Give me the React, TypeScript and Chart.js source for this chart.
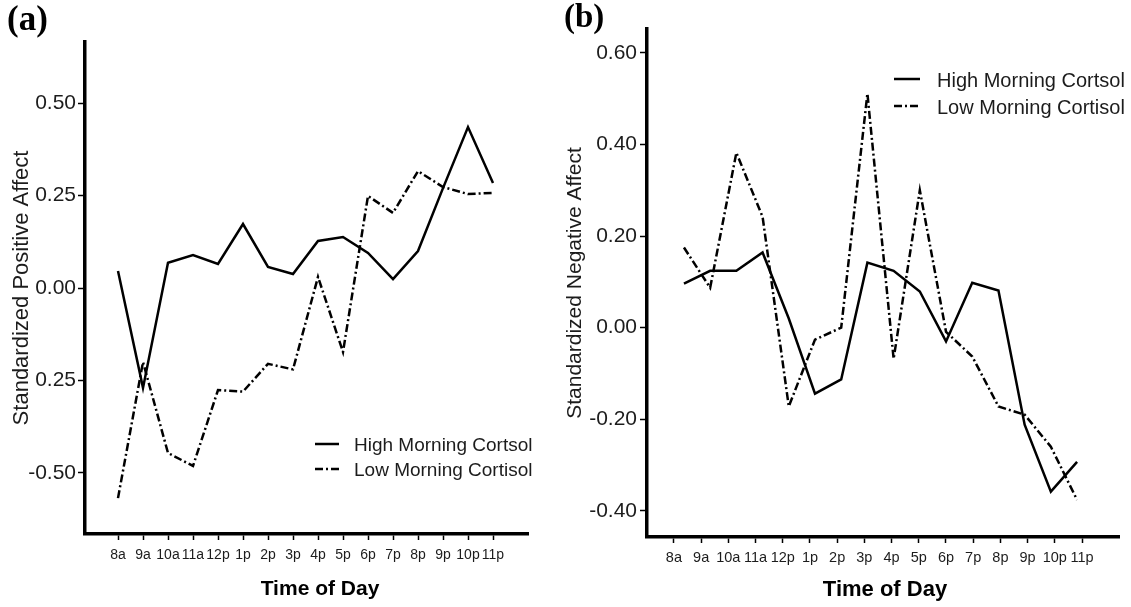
import React, { useEffect, useRef } from "react";
import { Chart, registerables } from "chart.js";

Chart.register(...registerables);

// ---------------- data ----------------
const timeLabels = ["8a", "9a", "10a", "11a", "12p", "1p", "2p", "3p", "4p", "5p", "6p", "7p", "8p", "9p", "10p", "11p"];
const seriesNames = ["High Morning Cortsol", "Low Morning Cortisol"];

const positiveHigh = [0.046, -0.27, 0.068, 0.089, 0.065, 0.173, 0.057, 0.038, 0.127, 0.138, 0.095, 0.024, 0.1, 0.27, 0.435, 0.284];
const positiveLow = [-0.568, -0.2, -0.446, -0.481, -0.276, -0.28, -0.205, -0.22, 0.03, -0.173, 0.249, 0.203, 0.316, 0.273, 0.254, 0.257];

const negativeHigh = [0.096, 0.124, 0.124, 0.164, 0.02, -0.144, -0.113, 0.142, 0.124, 0.079, -0.03, 0.098, 0.081, -0.212, -0.358, -0.293];
const negativeLow = [0.175, 0.087, 0.382, 0.242, -0.172, -0.026, 0.0, 0.511, -0.068, 0.3, -0.009, -0.063, -0.172, -0.19, -0.26, -0.376];

const positiveTickValues = [-0.5, -0.25, 0, 0.25, 0.5];
const positiveTickLabels = ["-0.50", "0.25", "0.00", "0.25", "0.50"];
const negativeTickValues = [-0.4, -0.2, 0, 0.2, 0.4, 0.6];
const negativeTickLabels = ["-0.40", "-0.20", "0.00", "0.20", "0.40", "0.60"];

// ---------------- styling ----------------
const SANS = '"Liberation Sans", Arial, Helvetica, sans-serif';
const SERIF = '"Liberation Serif", "Times New Roman", serif';
const TEXT = "#1c1c1c";
const LOW_DASH = [8, 3, 2, 3];

type PanelCfg = {
  left: number;
  width: number;
  height: number;
  areaLeft: number;
  areaTop: number;
  areaRight: number;
  areaBottom: number;
  xMin: number;
  xMax: number;
  dataMin: number;
  dataMax: number;
  yMin: number;
  yMax: number;
  yTicks: number[];
  yTickLabels: string[];
  yTitle: string;
  yTitleFont: number;
  yTitlePad: number;
  yTickFont: number;
  yTickPad: number;
  xTickFont: number;
  xTickPad: number;
  high: number[];
  low: number[];
  panel: string;
  panelX: number;
  panelY: number;
  panelFont: number;
  xTitleX: number;
  xTitleY: number;
  xTitleFont: number;
  legendX: number;
  legendLen: number;
  legendTextX: number;
  legendY: number;
  legendGap: number;
  legendFont: number;
};

const panelA: PanelCfg = {
  left: 0, width: 556, height: 607,
  areaLeft: 85, areaTop: 42, areaRight: 528, areaBottom: 534,
  xMin: -1.32, xMax: 16.4, dataMin: -1.32, dataMax: 16.4,
  yMin: -0.665, yMax: 0.665,
  yTicks: positiveTickValues, yTickLabels: positiveTickLabels,
  yTitle: "Standardized Positive Affect", yTitleFont: 22, yTitlePad: 9,
  yTickFont: 21, yTickPad: 2,
  xTickFont: 14, xTickPad: 7,
  high: positiveHigh, low: positiveLow,
  panel: "(a)", panelX: 7, panelY: 30, panelFont: 35,
  xTitleX: 320, xTitleY: 589, xTitleFont: 21,
  legendX: 315, legendLen: 24, legendTextX: 354, legendY: 446, legendGap: 25, legendFont: 19,
};

const panelB: PanelCfg = {
  left: 556, width: 575, height: 607,
  areaLeft: 91, areaTop: 29, areaRight: 563, areaBottom: 537,
  xMin: -0.99, xMax: 16.36, dataMin: -1.41, dataMax: 16.6,
  yMin: -0.457, yMax: 0.652,
  yTicks: negativeTickValues, yTickLabels: negativeTickLabels,
  yTitle: "Standardized Negative Affect", yTitleFont: 21, yTitlePad: 7,
  yTickFont: 21, yTickPad: 3,
  xTickFont: 14.5, xTickPad: 6,
  high: negativeHigh, low: negativeLow,
  panel: "(b)", panelX: 8, panelY: 27, panelFont: 33,
  xTitleX: 329, xTitleY: 590, xTitleFont: 22,
  legendX: 338, legendLen: 26, legendTextX: 381, legendY: 81, legendGap: 27, legendFont: 20,
};

function decorPlugin(p: PanelCfg) {
  return {
    id: "decor" + p.panel,
    afterDraw(chart: any) {
      const ctx: CanvasRenderingContext2D = chart.ctx;
      ctx.save();
      // panel label
      ctx.fillStyle = "#000";
      ctx.font = `bold ${p.panelFont}px ${SERIF}`;
      ctx.textAlign = "left";
      ctx.textBaseline = "alphabetic";
      ctx.fillText(p.panel, p.panelX, p.panelY);
      // x-axis title
      ctx.font = `bold ${p.xTitleFont}px ${SANS}`;
      ctx.textAlign = "center";
      ctx.textBaseline = "middle";
      ctx.fillText("Time of Day", p.xTitleX, p.xTitleY);
      // legend
      chart.data.datasets.forEach((ds: any, i: number) => {
        const y = p.legendY + i * p.legendGap;
        ctx.strokeStyle = ds.borderColor;
        ctx.lineWidth = ds.borderWidth;
        ctx.setLineDash(ds.borderDash || []);
        ctx.beginPath();
        ctx.moveTo(p.legendX, y - 2);
        ctx.lineTo(p.legendX + p.legendLen, y - 2);
        ctx.stroke();
        ctx.setLineDash([]);
        ctx.fillStyle = TEXT;
        ctx.font = `${p.legendFont}px ${SANS}`;
        ctx.textAlign = "left";
        ctx.textBaseline = "middle";
        ctx.fillText(ds.label, p.legendTextX, y);
      });
      ctx.restore();
    },
  };
}

function buildChart(canvas: HTMLCanvasElement, p: PanelCfg) {
  const toPoints = (arr: number[]) => arr.map((v, i) => ({ x: i, y: v }));
  const gridStyle = {
    display: true,
    drawOnChartArea: false,
    drawTicks: true,
    tickLength: 7,
    tickWidth: 1.5,
    tickColor: "#000",
  };
  const borderStyle = { display: true, color: "#000", width: 3.5 };
  return new Chart(canvas, {
    type: "line",
    data: {
      datasets: [
        {
          label: seriesNames[0],
          data: toPoints(p.high),
          borderColor: "#000",
          borderWidth: 2.5,
          pointRadius: 0,
          tension: 0,
          fill: false,
          xAxisID: "xd",
          yAxisID: "y",
        },
        {
          label: seriesNames[1],
          data: toPoints(p.low),
          borderColor: "#000",
          borderWidth: 2.5,
          borderDash: LOW_DASH,
          pointRadius: 0,
          tension: 0,
          fill: false,
          xAxisID: "xd",
          yAxisID: "y",
        },
      ],
    },
    options: {
      responsive: false,
      animation: false,
      devicePixelRatio: 1,
      layout: { padding: { left: 0, top: p.areaTop, right: p.width - p.areaRight, bottom: 0 } },
      plugins: {
        legend: { display: false },
        tooltip: { enabled: false },
        title: { display: false },
      },
      scales: {
        x: {
          type: "linear",
          position: "bottom",
          min: p.xMin,
          max: p.xMax,
          afterBuildTicks: (axis: any) => {
            axis.ticks = timeLabels.map((_, i) => ({ value: i }));
          },
          afterFit: (s: any) => {
            s.height = p.height - p.areaBottom;
          },
          ticks: {
            autoSkip: false,
            maxRotation: 0,
            minRotation: 0,
            padding: p.xTickPad,
            color: TEXT,
            font: { family: SANS, size: p.xTickFont },
            callback: (_v: any, i: number) => timeLabels[i],
          },
          grid: { ...gridStyle, tickLength: 6 },
          border: borderStyle,
        },
        xd: {
          type: "linear",
          display: false,
          min: p.dataMin,
          max: p.dataMax,
        },
        y: {
          type: "linear",
          position: "left",
          min: p.yMin,
          max: p.yMax,
          afterBuildTicks: (axis: any) => {
            axis.ticks = p.yTicks.map((v) => ({ value: v }));
          },
          afterFit: (s: any) => {
            s.width = p.areaLeft;
          },
          ticks: {
            padding: p.yTickPad,
            color: TEXT,
            font: { family: SANS, size: p.yTickFont },
            callback: (_v: any, i: number) => p.yTickLabels[i],
          },
          grid: gridStyle,
          border: borderStyle,
          title: {
            display: true,
            text: p.yTitle,
            color: TEXT,
            font: { family: SANS, size: p.yTitleFont },
            padding: { top: p.yTitlePad, bottom: 0 },
          },
        },
      },
    } as any,
    plugins: [decorPlugin(p)],
  });
}

function Panel({ cfg }: { cfg: PanelCfg }) {
  const ref = useRef<HTMLCanvasElement>(null);
  useEffect(() => {
    if (!ref.current) return;
    const chart = buildChart(ref.current, cfg);
    return () => chart.destroy();
  }, [cfg]);
  return (
    <div style={{ position: "absolute", left: cfg.left, top: 0, width: cfg.width, height: cfg.height }}>
      <canvas ref={ref} width={cfg.width} height={cfg.height} style={{ width: cfg.width, height: cfg.height, display: "block" }} />
    </div>
  );
}

export default function App() {
  return (
    <div style={{ position: "absolute", left: 0, top: 0, width: 1131, height: 607, background: "#fff", overflow: "hidden" }}>
      <Panel cfg={panelA} />
      <Panel cfg={panelB} />
    </div>
  );
}
